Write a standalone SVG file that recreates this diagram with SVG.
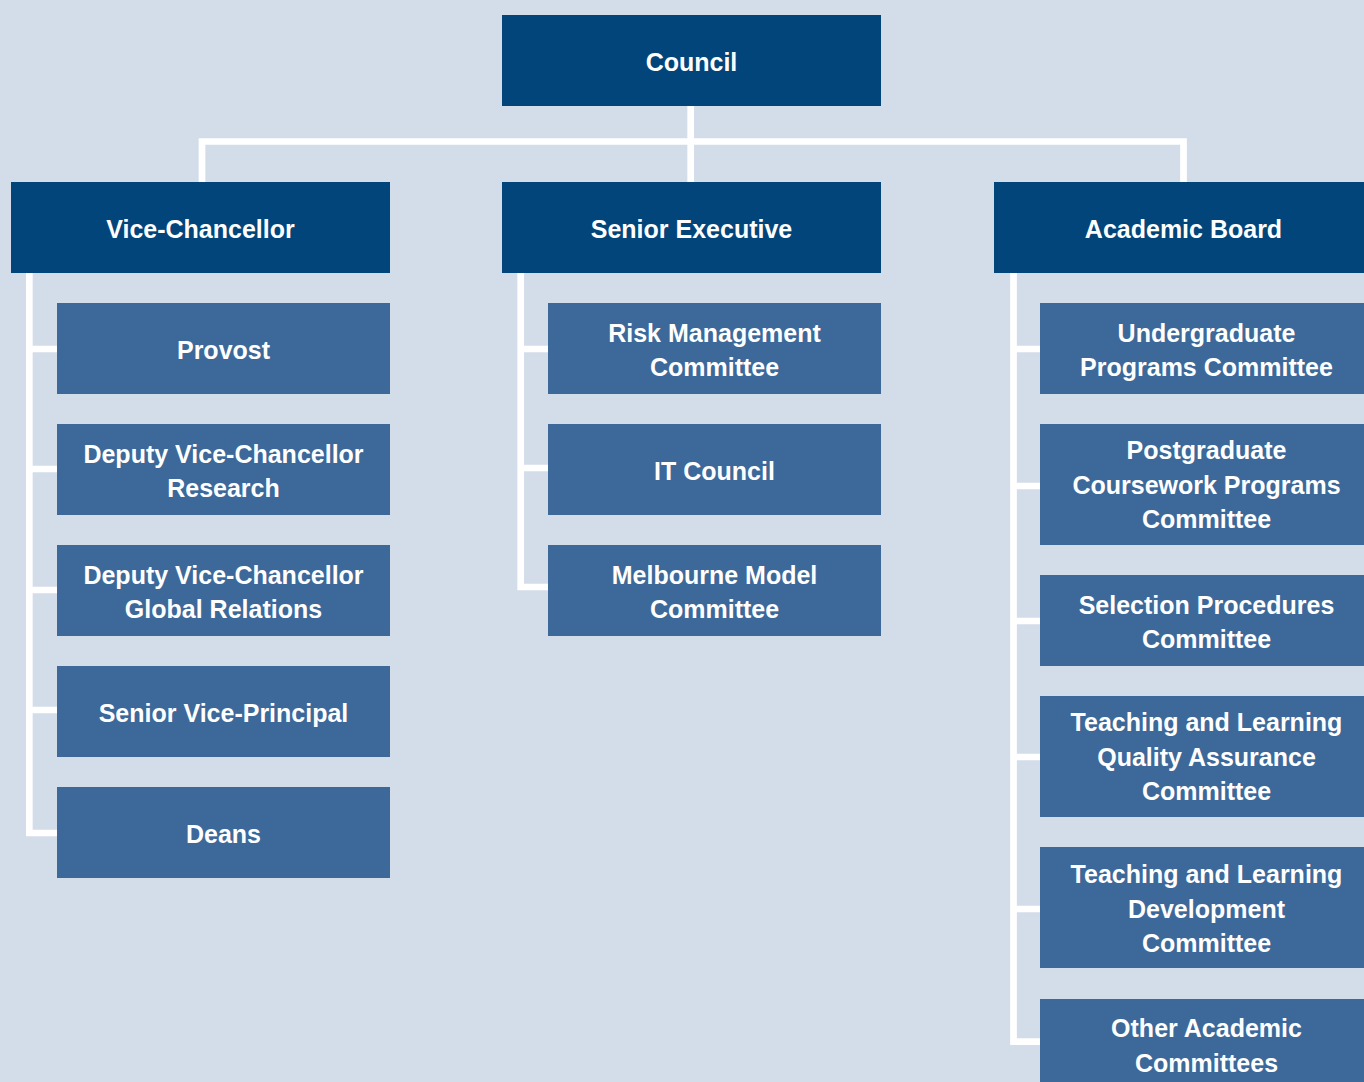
<svg xmlns="http://www.w3.org/2000/svg" width="1364" height="1082" viewBox="0 0 1364 1082">
<style>
.bg{fill:#d3dce9}
.top{fill:#02457b}
.sub{fill:#3c6999}
.c{fill:none;stroke:#ffffff;stroke-width:6.7;stroke-linejoin:miter;stroke-linecap:butt}
text{font-family:"Liberation Sans",Arial,sans-serif;font-weight:bold;font-size:25px;fill:#ffffff;text-anchor:middle}
</style>
<rect class="bg" x="0" y="0" width="1364" height="1082"/>
<g id="connectors">
<path class="c" d="M690.7,106 V182 M202,182 V141.5 H1183.5 V182"/>
<path class="c" d="M29.3,272 V833 H57 M29.3,349 H57 M29.3,469 H57 M29.3,590 H57 M29.3,710 H57"/>
<path class="c" d="M520.7,272 V587 H548 M520.7,349 H548 M520.7,468 H548"/>
<path class="c" d="M1013.5,272 V1041.7 H1040 M1013.5,349 H1040 M1013.5,486 H1040 M1013.5,621 H1040 M1013.5,757 H1040 M1013.5,909 H1040"/>
</g>
<g id="council"><rect class="top" x="502" y="15" width="379" height="91"/><text x="691.5" y="71">Council</text></g>
<g id="vice-chancellor"><rect class="top" x="11" y="182" width="379" height="91"/><text x="200.5" y="238">Vice-Chancellor</text></g>
<g id="senior-executive"><rect class="top" x="502" y="182" width="379" height="91"/><text x="691.5" y="238">Senior Executive</text></g>
<g id="academic-board"><rect class="top" x="994" y="182" width="379" height="91"/><text x="1183.5" y="238">Academic Board</text></g>

<g id="provost"><rect class="sub" x="57" y="303" width="333" height="91"/><text x="223.5" y="359">Provost</text></g>
<g id="dvc-research"><rect class="sub" x="57" y="424" width="333" height="91"/><text x="223.5" y="462.5">Deputy Vice-Chancellor</text><text x="223.5" y="497">Research</text></g>
<g id="dvc-global"><rect class="sub" x="57" y="545" width="333" height="91"/><text x="223.5" y="583.5">Deputy Vice-Chancellor</text><text x="223.5" y="618">Global Relations</text></g>
<g id="svp"><rect class="sub" x="57" y="666" width="333" height="91"/><text x="223.5" y="722">Senior Vice-Principal</text></g>
<g id="deans"><rect class="sub" x="57" y="787" width="333" height="91"/><text x="223.5" y="843">Deans</text></g>

<g id="risk"><rect class="sub" x="548" y="303" width="333" height="91"/><text x="714.5" y="341.5">Risk Management</text><text x="714.5" y="376">Committee</text></g>
<g id="it-council"><rect class="sub" x="548" y="424" width="333" height="91"/><text x="714.5" y="480">IT Council</text></g>
<g id="melbourne-model"><rect class="sub" x="548" y="545" width="333" height="91"/><text x="714.5" y="583.5">Melbourne Model</text><text x="714.5" y="618">Committee</text></g>

<g id="undergrad"><rect class="sub" x="1040" y="303" width="333" height="91"/><text x="1206.5" y="341.5">Undergraduate</text><text x="1206.5" y="376">Programs Committee</text></g>
<g id="postgrad"><rect class="sub" x="1040" y="424" width="333" height="121"/><text x="1206.5" y="459">Postgraduate</text><text x="1206.5" y="493.5">Coursework Programs</text><text x="1206.5" y="528">Committee</text></g>
<g id="selection"><rect class="sub" x="1040" y="575" width="333" height="91"/><text x="1206.5" y="613.5">Selection Procedures</text><text x="1206.5" y="648">Committee</text></g>
<g id="tlqa"><rect class="sub" x="1040" y="696" width="333" height="121"/><text x="1206.5" y="731">Teaching and Learning</text><text x="1206.5" y="765.5">Quality Assurance</text><text x="1206.5" y="800">Committee</text></g>
<g id="tldev"><rect class="sub" x="1040" y="847" width="333" height="121"/><text x="1206.5" y="883">Teaching and Learning</text><text x="1206.5" y="917.5">Development</text><text x="1206.5" y="952">Committee</text></g>
<g id="other"><rect class="sub" x="1040" y="999" width="333" height="91"/><text x="1206.5" y="1037">Other Academic</text><text x="1206.5" y="1071.5">Committees</text></g>
</svg>
